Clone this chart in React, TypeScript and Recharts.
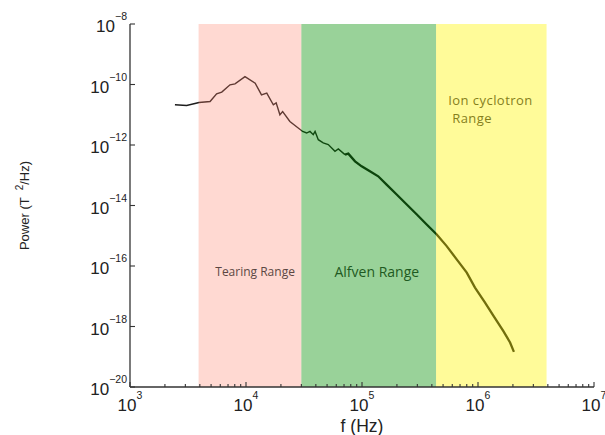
import React from 'react';
import { LineChart, Line, XAxis, YAxis, ReferenceArea } from 'recharts';

// ---- data ----
const FREQ_HZ = [
  2440, 3080, 3940, 4900, 5580, 6180, 7280, 8040, 9800,
  12000, 13600, 15100, 17200, 18200, 19600, 20700,
  23900, 30800, 33300, 35600, 38000, 39400, 42000, 46300, 51200, 58500, 62500, 71300, 76200, 87100, 99300,
  117000, 138000, 163000, 199000, 243000, 297000, 361000, 441000,
  537000, 655000, 800000, 942000, 1150000, 1360000, 1650000, 1890000, 2040000,
];
const POWER = [
  2.13e-11, 2.02e-11, 2.54e-11, 2.74e-11, 4.92e-11, 5.6e-11, 9.75e-11, 1.05e-10, 1.83e-10,
  1.11e-10, 4.56e-11, 5.19e-11, 2.13e-11, 2.48e-11, 1.0e-11, 1.28e-11,
  6.01e-12, 2.81e-12, 2.49e-12, 2.81e-12, 2.19e-12, 2.81e-12, 1.5e-12, 1.17e-12, 1.03e-12, 6.17e-13, 7.4e-13, 4.8e-13, 5.18e-13, 2.88e-13, 1.97e-13,
  1.35e-13, 9.23e-14, 4.92e-14, 2.3e-14, 1.08e-14, 5.05e-15, 2.36e-15, 1.1e-15,
  4.54e-16, 1.66e-16, 6.03e-17, 1.93e-17, 6.18e-18, 2.23e-18, 7.16e-19, 2.97e-19, 1.45e-19,
];
// frequency above which the trace is drawn thicker (dense, noisy part of the spectrum)
const THICK_FROM_HZ = 71300;

const X_MAJOR = [1e3, 1e4, 1e5, 1e6, 1e7];
const X_MINOR_MULT = [2, 3, 4, 5, 6, 7, 8, 9];
const Y_MAJOR = [1e-20, 1e-18, 1e-16, 1e-14, 1e-12, 1e-10, 1e-8];

const BAND_NAMES = ['Tearing Range', 'Alfven Range', 'Ion cyclotron Range'];
const BAND_FROM_HZ = [3.9e3, 3.0e4, 4.35e5];
const BAND_TO_HZ = [3.0e4, 4.35e5, 3.9e6];

const X_LABEL = 'f (Hz)';
const Y_LABEL_PARTS = ['Power (T  ', '2', '/Hz)'];

// ---- derived ----
const data = FREQ_HZ.map((f, i) => ({
  f,
  thin: f <= THICK_FROM_HZ ? POWER[i] : null,
  thick: f >= THICK_FROM_HZ ? POWER[i] : null,
}));
const X_ALL_TICKS: number[] = [];
X_MAJOR.slice(0, -1).forEach((d) => {
  X_ALL_TICKS.push(d);
  X_MINOR_MULT.forEach((m) => X_ALL_TICKS.push(m * d));
});
X_ALL_TICKS.push(X_MAJOR[X_MAJOR.length - 1]);

const expOf = (v: number) => Math.round(Math.log10(v));
const isMajor = (v: number) => Math.abs(Math.log10(v) - expOf(v)) < 1e-6;
const fmtExp = (e: number) => (e < 0 ? '\u2212' + Math.abs(e) : String(e));

const AX = '#333';
const TICK_FONT = '"Liberation Sans", Arial, sans-serif';
const BAND_FONT = '"Open Sans", "Liberation Sans", sans-serif';

const BottomTick = (props: any) => {
  const { x, y, payload } = props;
  const v = payload.value;
  const major = isMajor(v);
  return (
    <g>
      <line x1={x} x2={x} y1={y} y2={y - (major ? 5 : 3)} stroke={AX} strokeWidth={1.1} />
      {major && (
        <text x={x} y={y + 24} textAnchor="middle" fontSize={17} fill="#222" fontFamily={TICK_FONT}>
          10
          <tspan dy={-12} fontSize={10.5}>{fmtExp(expOf(v))}</tspan>
        </text>
      )}
    </g>
  );
};

const TopTick = (props: any) => {
  const { x, y, payload } = props;
  const major = isMajor(payload.value);
  return <line x1={x} x2={x} y1={y} y2={y + (major ? 5 : 3)} stroke={AX} strokeWidth={1.1} />;
};

const LeftTick = (props: any) => {
  const { x, y, payload } = props;
  const v = payload.value;
  return (
    <g>
      <line x1={x} x2={x + 5} y1={y} y2={y} stroke={AX} strokeWidth={1.1} />
      <text x={x - 3} y={y + 8} textAnchor="end" fontSize={17} fill="#222" fontFamily={TICK_FONT}>
        10
        <tspan dy={-12} fontSize={10.5}>{fmtExp(expOf(v))}</tspan>
      </text>
    </g>
  );
};

const RightTick = (props: any) => {
  const { x, y } = props;
  return <line x1={x} x2={x - 5} y1={y} y2={y} stroke={AX} strokeWidth={1.1} />;
};

const XLabel = (props: any) => {
  const vb = props.viewBox || { x: 130, y: 387, width: 464, height: 48 };
  return (
    <text x={vb.x + vb.width / 2} y={vb.y + 45} textAnchor="middle" fontSize={17.5} fill="#222" fontFamily={TICK_FONT}>
      {X_LABEL}
    </text>
  );
};

const YLabel = (props: any) => {
  const vb = props.viewBox || { x: 0, y: 24, width: 130, height: 363 };
  const cx = vb.x + 29;
  const cy = vb.y + vb.height / 2;
  return (
    <text
      x={cx}
      y={cy}
      transform={`rotate(-90, ${cx}, ${cy})`}
      textAnchor="middle"
      fontSize={13}
      fill="#222"
      fontFamily={TICK_FONT}
      style={{ whiteSpace: 'pre' }}
    >
      {Y_LABEL_PARTS[0]}
      <tspan dy={-6} fontSize={10}>{Y_LABEL_PARTS[1]}</tspan>
      <tspan dy={6}>{Y_LABEL_PARTS[2]}</tspan>
    </text>
  );
};

const BandLabel = (props: any) => {
  const { viewBox, lines, fx, fy, anchor, size, color, lineGap, indent, spacing } = props;
  if (!viewBox) return null;
  const x = viewBox.x + fx * viewBox.width;
  const y = viewBox.y + fy * viewBox.height;
  return (
    <g>
      {lines.map((l: string, i: number) => (
        <text
          key={i}
          x={x + (i > 0 ? indent || 0 : 0)}
          y={y + i * (lineGap || 0)}
          textAnchor={anchor}
          fontSize={size}
          fill={color}
          fontFamily={BAND_FONT}
          letterSpacing={spacing || 0}
        >
          {l}
        </text>
      ))}
    </g>
  );
};

export default function App() {
  const ionWords = BAND_NAMES[2].split(' ');
  return (
    <div style={{ position: 'absolute', left: 0, top: 0, width: 605, height: 435, background: '#fff' }}>
      <LineChart width={605} height={435} data={data} margin={{ top: 24, right: 11, left: 0, bottom: 0 }}>
        <XAxis
          dataKey="f"
          type="number"
          scale="log"
          domain={[1e3, 1e7]}
          allowDataOverflow
          ticks={X_ALL_TICKS}
          interval={0}
          height={48}
          tickSize={0}
          tickMargin={0}
          tickLine={false}
          axisLine={{ stroke: AX, strokeWidth: 1.3 }}
          tick={<BottomTick />}
          label={<XLabel />}
        />
        <XAxis
          xAxisId="top"
          orientation="top"
          type="number"
          scale="log"
          domain={[1e3, 1e7]}
          allowDataOverflow
          ticks={X_ALL_TICKS}
          interval={0}
          height={0}
          tickSize={0}
          tickMargin={0}
          tickLine={false}
          axisLine={{ stroke: AX, strokeWidth: 1.3 }}
          tick={<TopTick />}
        />
        <YAxis
          type="number"
          scale="log"
          domain={[1e-20, 1e-8]}
          allowDataOverflow
          ticks={Y_MAJOR}
          interval={0}
          width={130}
          tickSize={0}
          tickMargin={0}
          tickLine={false}
          axisLine={{ stroke: AX, strokeWidth: 1.3 }}
          tick={<LeftTick />}
          label={<YLabel />}
        />
        <YAxis
          yAxisId="right"
          orientation="right"
          type="number"
          scale="log"
          domain={[1e-20, 1e-8]}
          allowDataOverflow
          ticks={Y_MAJOR}
          interval={0}
          width={0}
          tickSize={0}
          tickMargin={0}
          tickLine={false}
          axisLine={{ stroke: AX, strokeWidth: 1.3 }}
          tick={<RightTick />}
        />
        <Line
          dataKey="thin"
          type="linear"
          stroke="#1c1c1c"
          strokeWidth={1.4}
          dot={false}
          activeDot={false}
          connectNulls={false}
          isAnimationActive={false}
        />
        <Line
          dataKey="thick"
          type="linear"
          stroke="#141414"
          strokeWidth={2.3}
          dot={false}
          activeDot={false}
          connectNulls={false}
          isAnimationActive={false}
        />
        <ReferenceArea
          x1={BAND_FROM_HZ[0]}
          x2={BAND_TO_HZ[0]}
          fill="#FF8069"
          fillOpacity={0.3}
          stroke="none"
          ifOverflow="hidden"
          {...({ zIndex: 450 } as any)}
          label={
            <BandLabel lines={[BAND_NAMES[0]]} fx={0.55} fy={0.695} anchor="middle" size={12} color="#5b4743" />
          }
        />
        <ReferenceArea
          x1={BAND_FROM_HZ[1]}
          x2={BAND_TO_HZ[1]}
          fill="#008E00"
          fillOpacity={0.4}
          stroke="none"
          ifOverflow="hidden"
          {...({ zIndex: 450 } as any)}
          label={
            <BandLabel lines={[BAND_NAMES[1]]} fx={0.56} fy={0.697} anchor="middle" size={14} color="#1f5a22" />
          }
        />
        <ReferenceArea
          x1={BAND_FROM_HZ[2]}
          x2={BAND_TO_HZ[2]}
          fill="#FFF500"
          fillOpacity={0.4}
          stroke="none"
          ifOverflow="hidden"
          {...({ zIndex: 450 } as any)}
          label={
            <BandLabel
              lines={[ionWords.slice(0, 2).join(' '), ionWords[2]]}
              fx={0.11}
              fy={0.223}
              anchor="start"
              size={13}
              spacing={0.45}
              color="#857f1c"
              lineGap={18}
              indent={4}
            />
          }
        />
      </LineChart>
    </div>
  );
}
